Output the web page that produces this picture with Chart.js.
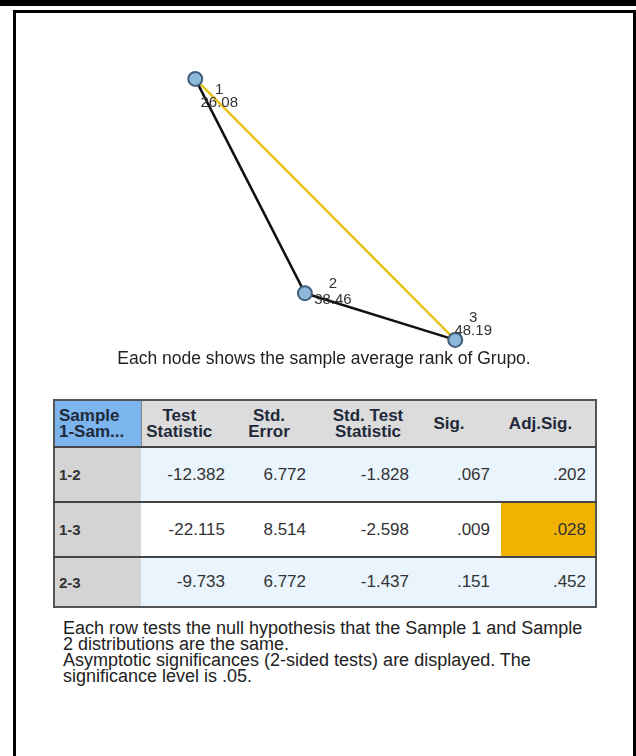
<!DOCTYPE html>
<html>
<head>
<meta charset="utf-8">
<script src="https://cdn.jsdelivr.net/npm/chart.js@4"></script>
<style>
  body { margin: 0; background: #fff; font-family: "Liberation Sans", Arial, sans-serif; }
  .topbar { position: absolute; left: 0; top: 0; width: 636px; height: 6px; background: #000; }
  .frame { position: absolute; left: 13px; top: 10px; width: 617px; height: 760px;
           border: 3px solid #000; border-bottom: none; }
  #graph { position: absolute; left: 16px; top: 13px; }
  .caption { position: absolute; left: 16px; width: 616px; top: 348px; text-align: center;
             font-size: 17.5px; color: #222; }
  table { position: absolute; left: 53px; top: 399px; border-collapse: collapse;
          table-layout: fixed; width: 542px; border: 2px solid #555; }
  th { background: #dcdcdc; color: #1f2a3a; font-size: 17px; line-height: 16px; font-weight: bold;
       height: 45px; padding: 0; text-align: center; border-bottom: 1px solid #777; }
  th.first { background: #7cb4ee; text-align: left; padding-left: 4px; border-right: 1px solid #888; }
  td { font-size: 17px; color: #333; text-align: right; padding: 0; height: 53px;
       border-top: 2px solid #444; }
  tr.last td { height: 48px; }
  td.first { background: #d4d4d4; text-align: left; padding-left: 4px; font-weight: bold; font-size: 15px; }
  tr.shade td { background: #eaf4fc; }
  tr.plain td { background: #fff; }
  tr td.first { background: #d4d4d4; }
  td.hi { background: #f0b400 !important; }
  .foot { position: absolute; left: 63px; top: 620px; width: 525px; font-size: 18px;
          line-height: 16px; color: #222; }
</style>
</head>
<body>
<div class="topbar"></div>
<div class="frame"></div>
<canvas id="graph" width="616" height="362"></canvas>
<div class="caption">Each node shows the sample average rank of Grupo.</div>
<table id="tbl"></table>
<div class="foot">Each row tests the null hypothesis that the Sample 1 and Sample 2 distributions are the same.<br>Asymptotic significances (2-sided tests) are displayed. The significance level is .05.</div>
<script>
const nodeIds = ["1", "2", "3"];
const avgRank = [26.08, 38.46, 48.19];
// node layout positions in graph units (0-100)
const nodeLayoutX = [29.1, 46.9, 71.3];
const nodeLayoutY = [18.2, 77.4, 90.3];

const pairLabels = ["1-2", "1-3", "2-3"];
const testStatistic = [-12.382, -22.115, -9.733];
const stdError = [6.772, 8.514, 6.772];
const stdTestStatistic = [-1.828, -2.598, -1.437];
const sig = [0.067, 0.009, 0.151];
const adjSig = [0.202, 0.028, 0.452];
const alpha = 0.05;

const headers = ["Sample<br>1-Sam...", "Test<br>Statistic", "Std.<br>Error", "Std. Test<br>Statistic", "Sig.", "Adj.Sig."];

// label offsets around each node (px)
const labelOffsets = [
  { dx: 24, dy1: 11, dy2: 24 },
  { dx: 28, dy1: -9, dy2: 7 },
  { dx: 18, dy1: -22, dy2: -9 },
];

function fmtP(v) {
  return v.toFixed(3).replace(/^0/, "");
}

// table
const colW = [87, 91, 80, 104, 85, 95];
const thPad = ["", "padding-right:15px", "padding-right:6px", "padding-left:8px", "padding-right:19px", "padding-right:15px"];
const tdPad = [7, 6, 7, 11, 9];
let html = "<colgroup>" + colW.map((w) => `<col style="width:${w}px">`).join("") + "</colgroup>";
html += "<tr>" + headers.map((h, i) => `<th class="${i === 0 ? "first" : ""}" style="${thPad[i]}">${h}</th>`).join("") + "</tr>";
pairLabels.forEach((p, r) => {
  const vals = [testStatistic[r].toFixed(3), stdError[r].toFixed(3), stdTestStatistic[r].toFixed(3), fmtP(sig[r]), fmtP(adjSig[r])];
  const cls = (r === 1 ? "plain" : "shade") + (r === pairLabels.length - 1 ? " last" : "");
  html += `<tr class="${cls}"><td class="first">${p}</td>`;
  vals.forEach((v, c) => {
    const hi = c === 4 && adjSig[r] < alpha ? "hi" : "";
    html += `<td class="${hi}" style="padding-right:${tdPad[c]}px">${v}</td>`;
  });
  html += "</tr>";
});
document.getElementById("tbl").innerHTML = html;

// edges from pairs; significant ones are yellow
const edgeSets = pairLabels.map((p, r) => {
  const [a, b] = p.split("-").map((s) => nodeIds.indexOf(s));
  const signif = adjSig[r] < alpha;
  return {
    data: [
      { x: nodeLayoutX[a], y: nodeLayoutY[a] },
      { x: nodeLayoutX[b], y: nodeLayoutY[b] },
    ],
    showLine: true,
    borderColor: signif ? "#e8c21c" : "#111",
    borderWidth: 2.5,
    pointRadius: 0,
    order: signif ? 3 : 2,
  };
});

const nodeLabels = {
  id: "nodeLabels",
  afterDatasetsDraw(chart) {
    const c = chart.ctx;
    const xs = chart.scales.x, ys = chart.scales.y;
    c.save();
    c.font = "15px 'Liberation Sans', Arial, sans-serif";
    c.fillStyle = "#333";
    c.textAlign = "center";
    c.textBaseline = "middle";
    nodeIds.forEach((id, i) => {
      const px = xs.getPixelForValue(nodeLayoutX[i]);
      const py = ys.getPixelForValue(nodeLayoutY[i]);
      const o = labelOffsets[i];
      c.fillText(id, px + o.dx, py + o.dy1);
      c.fillText(avgRank[i].toFixed(2), px + o.dx, py + o.dy2);
    });
    c.restore();
  },
};

new Chart(document.getElementById("graph"), {
  type: "scatter",
  data: {
    datasets: [
      {
        data: nodeLayoutX.map((x, i) => ({ x: x, y: nodeLayoutY[i] })),
        pointRadius: 7,
        pointBackgroundColor: "#8db8da",
        pointBorderColor: "#415f7a",
        pointBorderWidth: 2,
        order: 1,
      },
      ...edgeSets,
    ],
  },
  options: {
    responsive: false,
    animation: false,
    layout: { padding: 0, autoPadding: false },
    plugins: { legend: { display: false }, tooltip: { enabled: false } },
    scales: {
      x: { type: "linear", min: 0, max: 100, display: false },
      y: { type: "linear", min: 0, max: 100, reverse: true, display: false },
    },
  },
  plugins: [nodeLabels],
});
</script>
</body>
</html>
